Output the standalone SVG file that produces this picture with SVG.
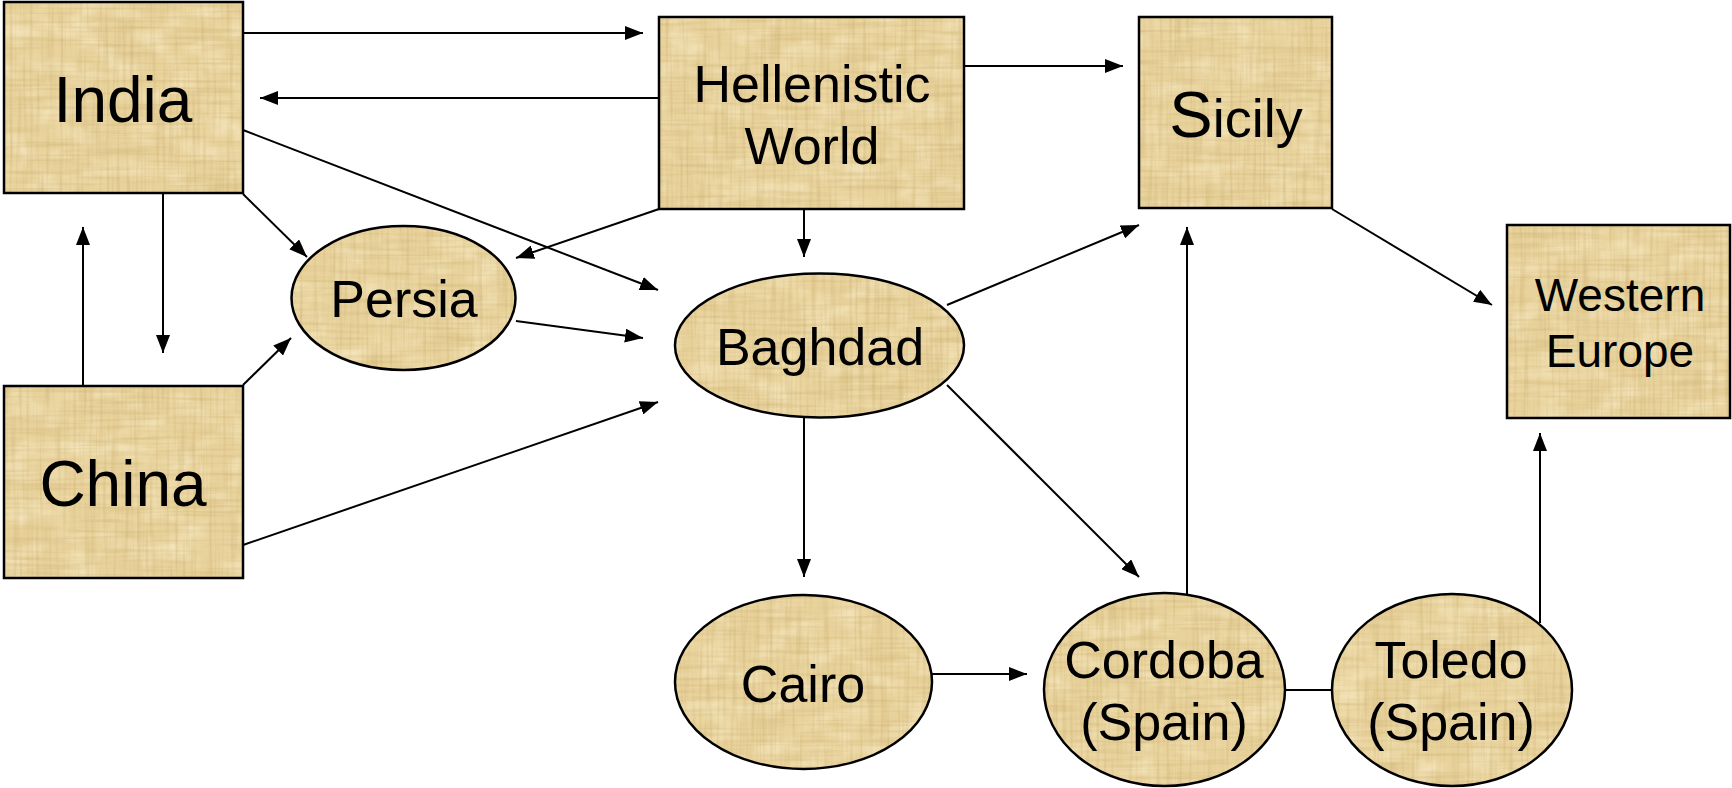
<svg xmlns="http://www.w3.org/2000/svg" width="1732" height="788" viewBox="0 0 1732 788">
  <defs>
    <!-- papyrus-like fibre grain -->
    <filter id="fibreV" x="0" y="0" width="100%" height="100%" color-interpolation-filters="sRGB">
      <feTurbulence type="fractalNoise" baseFrequency="0.3 0.012" numOctaves="2" seed="4"/>
      <feColorMatrix type="matrix" values="0 0 0 0 0.70  0 0 0 0 0.58  0 0 0 0 0.30  0.6 0 0 0 -0.27"/>
    </filter>
    <filter id="fibreH" x="0" y="0" width="100%" height="100%" color-interpolation-filters="sRGB">
      <feTurbulence type="fractalNoise" baseFrequency="0.012 0.3" numOctaves="2" seed="9"/>
      <feColorMatrix type="matrix" values="0 0 0 0 0.72  0 0 0 0 0.60  0 0 0 0 0.32  0.6 0 0 0 -0.27"/>
    </filter>
    <filter id="fibreL" x="0" y="0" width="100%" height="100%" color-interpolation-filters="sRGB">
      <feTurbulence type="fractalNoise" baseFrequency="0.03 0.05" numOctaves="3" seed="2"/>
      <feColorMatrix type="matrix" values="0 0 0 0 1  0 0 0 0 0.97  0 0 0 0 0.86  1.0 0 0 0 -0.42"/>
    </filter>
    <pattern id="papyrus" patternUnits="userSpaceOnUse" x="0" y="0" width="1732" height="788">
      <rect width="1732" height="788" fill="#e9d39d"/>
      <rect width="1732" height="788" filter="url(#fibreL)"/>
      <rect width="1732" height="788" filter="url(#fibreV)"/>
      <rect width="1732" height="788" filter="url(#fibreH)"/>
    </pattern>
    <marker id="arrow" markerUnits="userSpaceOnUse" markerWidth="18" markerHeight="14" refX="18" refY="7" orient="auto">
      <path d="M0,0 L18,7 L0,14 z" fill="#000"/>
    </marker>
  </defs>
  <style>
    .node { fill: url(#papyrus); stroke: #000; stroke-width: 2.5; }
    .lbl { font-family: "Liberation Sans", Arial, sans-serif; fill: #000; text-anchor: middle; }
    .big { font-size: 64px; }
    .mid { font-size: 52px; }
    .sm { font-size: 46px; }
    .edge { stroke: #000; stroke-width: 2; fill: none; }
    .arr { marker-end: url(#arrow); }
  </style>

  <rect width="1732" height="788" fill="#fff"/>

  <g id="connectors">
    <line class="edge arr" x1="243" y1="33" x2="643" y2="33"/>
    <line class="edge arr" x1="659" y1="98" x2="260" y2="98"/>
    <line class="edge arr" x1="243" y1="130" x2="658" y2="290"/>
    <line class="edge arr" x1="243" y1="194" x2="307" y2="257"/>
    <line class="edge arr" x1="659" y1="209" x2="516" y2="258"/>
    <line class="edge arr" x1="163" y1="193" x2="163" y2="353"/>
    <line class="edge arr" x1="83" y1="386" x2="83" y2="227"/>
    <line class="edge arr" x1="243" y1="385" x2="291" y2="338"/>
    <line class="edge arr" x1="516" y1="321" x2="643" y2="338"/>
    <line class="edge arr" x1="243" y1="545" x2="658" y2="402"/>
    <line class="edge arr" x1="804" y1="209" x2="804" y2="257"/>
    <line class="edge arr" x1="964" y1="66" x2="1123" y2="66"/>
    <line class="edge arr" x1="947" y1="305" x2="1139" y2="225"/>
    <line class="edge arr" x1="947" y1="385" x2="1139" y2="577"/>
    <line class="edge arr" x1="804" y1="418" x2="804" y2="577"/>
    <line class="edge arr" x1="932" y1="674" x2="1027" y2="674"/>
    <line class="edge arr" x1="1187" y1="595" x2="1187" y2="227"/>
    <line class="edge" x1="1285" y1="690" x2="1333" y2="690"/>
    <line class="edge arr" x1="1540" y1="623" x2="1540" y2="433"/>
    <line class="edge arr" x1="1332" y1="209" x2="1492" y2="305"/>
  </g>

  <g id="india">
    <rect class="node" x="4" y="2" width="239" height="191"/>
    <text class="lbl big" x="123" y="122">India</text>
  </g>
  <g id="china">
    <rect class="node" x="4" y="386" width="239" height="192"/>
    <text class="lbl big" x="123" y="506">China</text>
  </g>
  <g id="hellenistic-world">
    <rect class="node" x="659" y="17" width="305" height="192"/>
    <text class="lbl mid" x="812" y="102">Hellenistic</text>
    <text class="lbl mid" x="812" y="164">World</text>
  </g>
  <g id="sicily">
    <rect class="node" x="1139" y="17" width="193" height="191"/>
    <text class="lbl" x="1236" y="137" font-size="54"><tspan font-size="65">S</tspan>icily</text>
  </g>
  <g id="western-europe">
    <rect class="node" x="1507" y="225" width="223" height="193"/>
    <text class="lbl sm" x="1620" y="311">Western</text>
    <text class="lbl sm" x="1620" y="367">Europe</text>
  </g>
  <g id="persia">
    <ellipse class="node" cx="403.5" cy="298" rx="112" ry="72"/>
    <text class="lbl mid" x="404" y="317">Persia</text>
  </g>
  <g id="baghdad">
    <ellipse class="node" cx="819.5" cy="345.5" rx="144.5" ry="72"/>
    <text class="lbl mid" x="820" y="365">Baghdad</text>
  </g>
  <g id="cairo">
    <ellipse class="node" cx="803.5" cy="682" rx="128.5" ry="87"/>
    <text class="lbl mid" x="803" y="702">Cairo</text>
  </g>
  <g id="cordoba">
    <ellipse class="node" cx="1164.5" cy="689.5" rx="120.5" ry="96.5"/>
    <text class="lbl mid" x="1164" y="678">Cordoba</text>
    <text class="lbl mid" x="1164" y="740">(Spain)</text>
  </g>
  <g id="toledo">
    <ellipse class="node" cx="1452" cy="690" rx="120" ry="96"/>
    <text class="lbl mid" x="1451" y="678">Toledo</text>
    <text class="lbl mid" x="1451" y="740">(Spain)</text>
  </g>
</svg>
